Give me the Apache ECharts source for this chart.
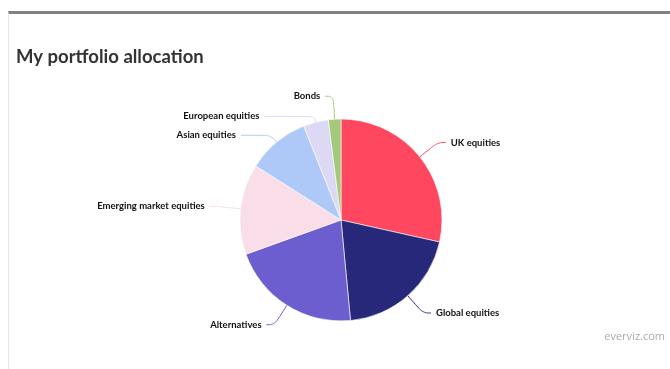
<!DOCTYPE html>
<html><head><meta charset="utf-8">
<script src="https://cdn.jsdelivr.net/npm/echarts@6/dist/echarts.min.js"></script>
<style>
html,body{margin:0;padding:0;background:#fff;}
#frame{position:absolute;left:8px;top:11px;width:662px;height:358px;border-top:3px solid #808080;border-left:1px solid #e6e6e6;box-sizing:border-box;}
#c{position:absolute;left:0;top:0;width:670px;height:369px;}
</style></head>
<body>
<div id="frame"></div>
<div id="c"></div>
<script>
const categories = ["UK equities","Global equities","Alternatives","Emerging market equities","Asian equities","European equities","Bonds"];
const values = [28.5, 20, 21, 14.5, 10, 4, 2];
const colors = ["#ff4760","#28287a","#6d5ed0","#f9dde8","#aec8f8","#ddd9f5","#a5c97a"];
// connector lengths [radial, horizontal] per slice (style only)
const lineLen = [[23,8],[23,8],[23,8],[23,8],[9,30],[6,50],[23,8]];

const chart = echarts.init(document.getElementById('c'), null, {renderer:'canvas'});
chart.setOption({
  animation:false,
  title:{text:"My portfolio allocation",left:16,top:48,padding:0,textStyle:{fontFamily:"Lato",fontWeight:"bold",fontSize:18.5,color:"#333"}},
  graphic:[{type:'text',right:5,top:331,style:{text:'everviz.com',fill:'#aaa',font:'11px "Open Sans"'}}],
  series:[{
    type:'pie',
    center:[341,220],
    radius:[0,101],
    startAngle:90,
    clockwise:true,
    data:categories.map((n,i)=>({name:n,value:values[i],itemStyle:{color:colors[i]},
      labelLine:{length:lineLen[i][0],length2:lineLen[i][1],lineStyle:{color:colors[i]}}})),
    itemStyle:{borderColor:'#fff',borderWidth:0.6},
    label:{fontFamily:"Lato",fontWeight:"bold",fontSize:9.5,color:"#111",formatter:'{b}'},
    labelLine:{smooth:0.4,lineStyle:{width:1}},
    emphasis:{disabled:true}
  }]
});
</script>
</body></html>
